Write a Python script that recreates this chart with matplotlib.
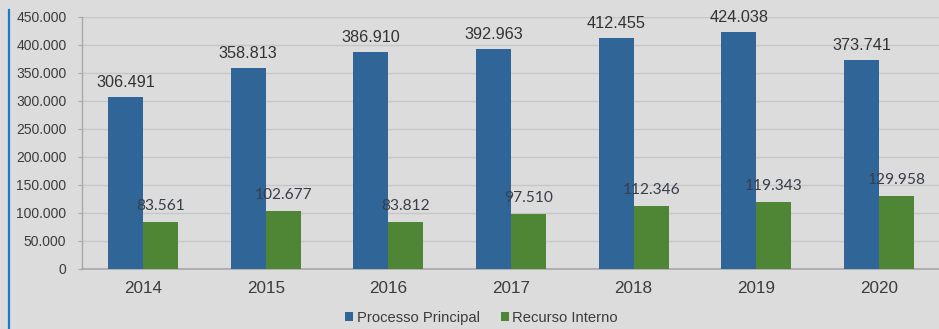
import matplotlib
matplotlib.use("Agg")
import matplotlib.pyplot as plt
from matplotlib.lines import Line2D
from matplotlib.ticker import FuncFormatter
import numpy as np

years = ["2014", "2015", "2016", "2017", "2018", "2019", "2020"]
processo_principal = [306491, 358813, 386910, 392963, 412455, 424038, 373741]
recurso_interno = [83561, 102677, 83812, 97510, 112346, 119343, 129958]
y_ticks = [0, 50000, 100000, 150000, 200000, 250000, 300000, 350000, 400000, 450000]

BG = "#dcdcdc"
BLUE = "#2f6597"
GREEN = "#4f8636"
GRID = "#c7c7c7"
TEXT = "#3c3c3c"


def pt_fmt(v):
    return f"{int(v):,}".replace(",", ".")


fig = plt.figure(figsize=(9.39, 3.29), dpi=100, facecolor=BG)
ax = fig.add_axes([0.087, 0.1824, 0.9144, 0.766])
ax.set_facecolor(BG)

x = np.arange(len(years))
w = 0.285
ax.bar(x - w / 2, processo_principal, w, color=BLUE, label="Processo Principal", zorder=3)
ax.bar(x + w / 2, recurso_interno, w, color=GREEN, label="Recurso Interno", zorder=3)

for xi, v in zip(x, processo_principal):
    ax.annotate(pt_fmt(v), (xi - w / 2, v), xytext=(0, 5), textcoords="offset points",
                ha="center", va="bottom", fontsize=11.7, color="#333333",
                family="Liberation Sans", zorder=4)
for xi, v in zip(x, recurso_interno):
    ax.annotate(pt_fmt(v), (xi + w / 2, v), xytext=(0, 6.5), textcoords="offset points",
                ha="center", va="bottom", fontsize=11.2, color="#3a3d4a",
                family="Lato", zorder=4)

ax.set_xlim(-0.5, len(years) - 0.5)
ax.set_ylim(0, 450000)
ax.set_yticks(y_ticks)
ax.yaxis.set_major_formatter(FuncFormatter(lambda v, p: pt_fmt(v)))
ax.set_xticks(x)
ax.set_xticklabels(years)

ax.grid(axis="y", color=GRID, linewidth=1.0, zorder=0)
for s in ["top", "right"]:
    ax.spines[s].set_visible(False)
ax.spines["left"].set_color("#a8a8a8")
ax.spines["bottom"].set_color("#a8a8a8")
ax.spines["left"].set_linewidth(1.0)
ax.spines["bottom"].set_linewidth(1.2)

ax.tick_params(axis="y", length=3, color="#a8a8a8", pad=8, labelsize=10,
               labelcolor=TEXT, labelfontfamily="Liberation Sans")
ax.tick_params(axis="x", length=0, pad=9, labelsize=12.3,
               labelcolor=TEXT, labelfontfamily="Liberation Sans")

leg = fig.legend(loc="center", bbox_to_anchor=(0.513, 0.034), ncol=2, frameon=False,
                 handlelength=0.55, handleheight=0.55, handletextpad=0.25,
                 columnspacing=1.4, prop={"family": "Liberation Sans", "size": 10.6})
for t in leg.get_texts():
    t.set_color(TEXT)

# accent bar along the left edge
fig.add_artist(Line2D([9 / 939, 9 / 939], [0, 1 - 10 / 329], transform=fig.transFigure,
                      color="#1f78c8", linewidth=1.6))

fig.savefig("out.png", dpi=100, facecolor=BG)
